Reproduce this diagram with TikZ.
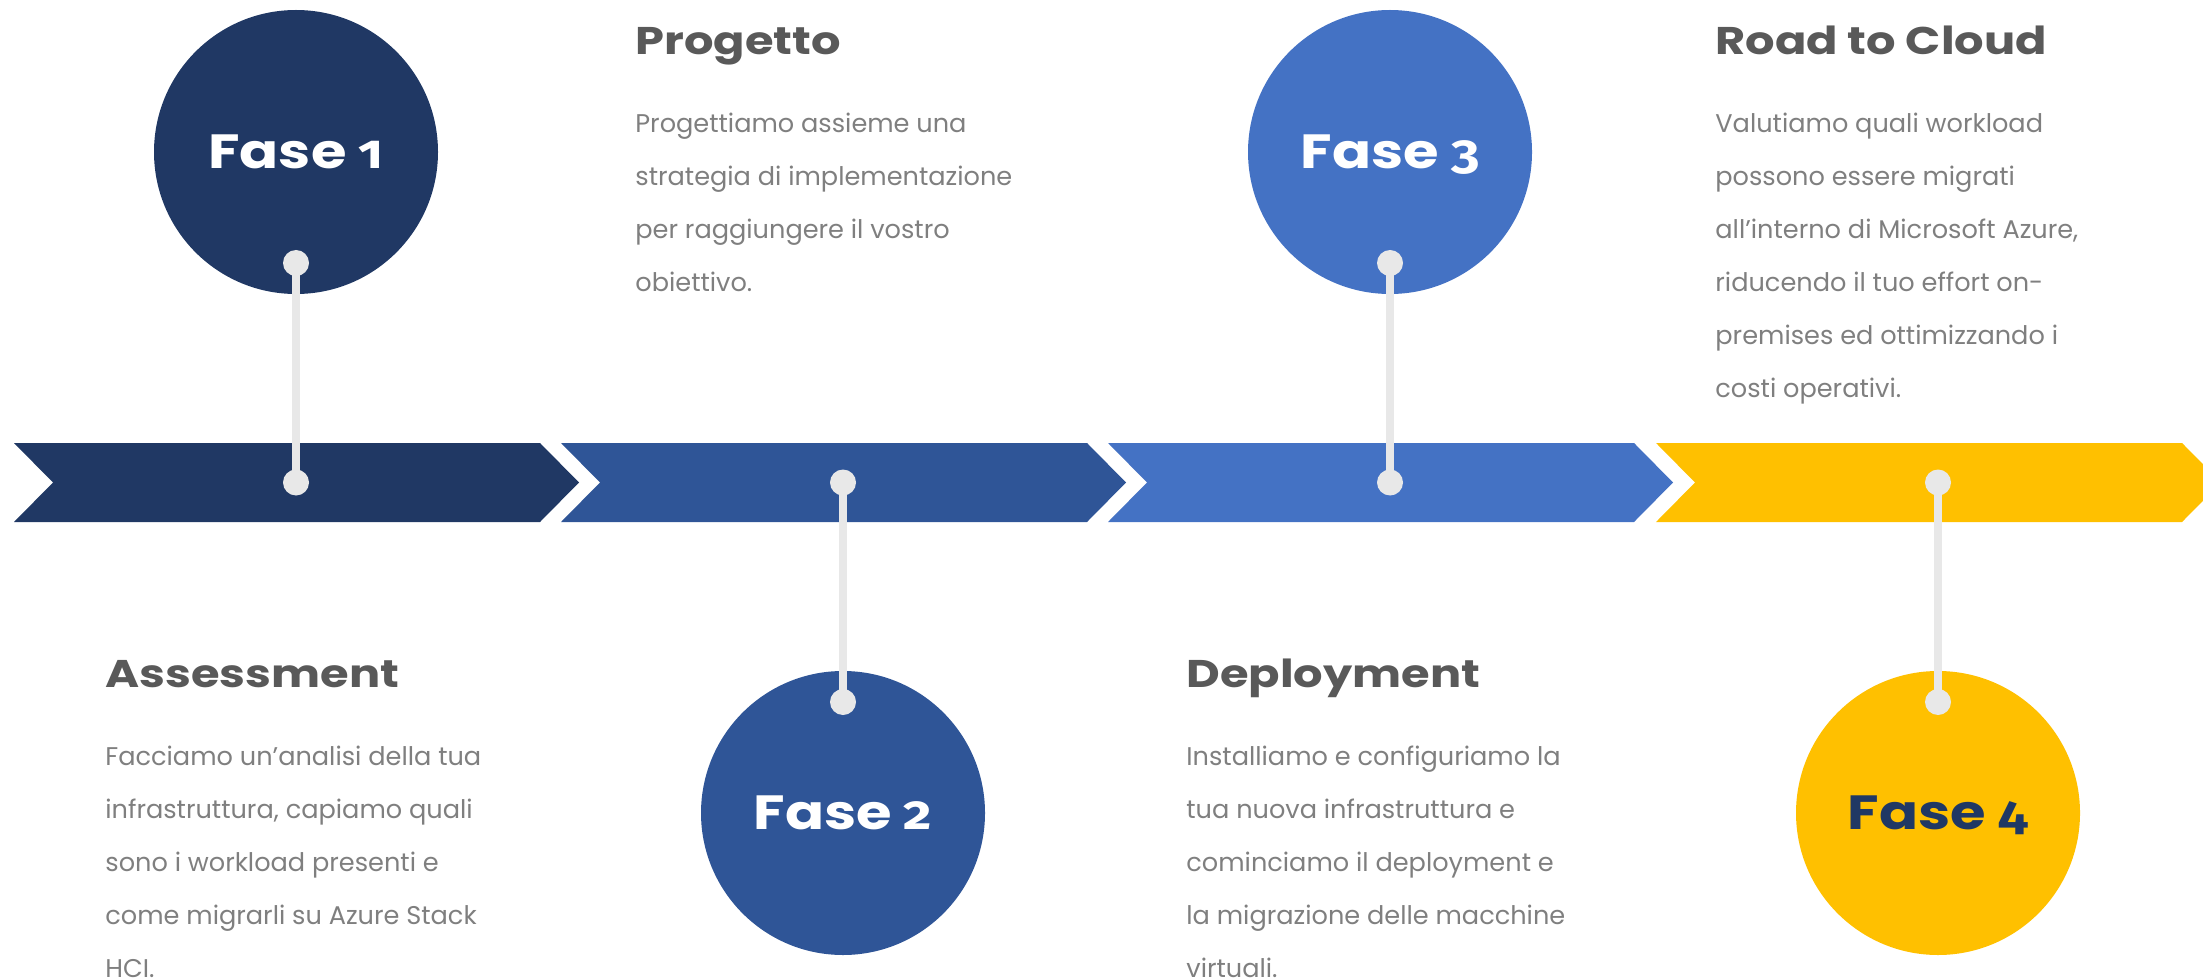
\documentclass[tikz,border=0pt]{standalone}
\usepackage{fontspec}
\setmainfont{Poppins}
\newfontfamily\headfont{Poppins}[FakeStretch=1.2]
\newfontfamily\numfont{Fira Sans}[Numbers=OldStyle,FakeStretch=1.15]
\newfontfamily\bodyfont{Poppins}
\definecolor{navy}{HTML}{203864}
\definecolor{midblue}{HTML}{2F5597}
\definecolor{lightblue}{HTML}{4472C4}
\definecolor{gold}{HTML}{FFC000}
\definecolor{connc}{HTML}{E8E8E8}
\definecolor{headc}{HTML}{595959}
\definecolor{bodyc}{HTML}{7F7F7F}
\newcommand\lns[1]{\begin{tabular}[t]{@{}l@{}}#1\end{tabular}}
\newcommand\chevshape[2]{\fill[#2] (#1,443) -- ++(526,0) -- ++(39,39.5) -- ++(-39,39.5) -- ++(-526,0) -- ++(39,-39.5) -- cycle;}
\tikzset{
  phase/.style={circle, minimum size=142pt, inner sep=0pt, text=white,
    font=\headfont\bfseries\fontsize{24pt}{28pt}\selectfont, text height=16.75pt, text depth=0pt},
  dotn/.style={circle, fill=connc, minimum size=13pt, inner sep=0pt},
  conn/.style={draw=connc, line width=4pt},
  heading/.style={anchor=base west, inner sep=0pt, text=headc, font=\headfont\bfseries\fontsize{19.3pt}{23pt}\selectfont},
  bodytext/.style={anchor=base west, inner sep=0pt, text=bodyc, font=\bodyfont\fontsize{12.8pt}{26.5pt}\selectfont}
}
\begin{document}
\begin{tikzpicture}[x=0.5pt,y=-0.5pt]
\useasboundingbox (0,0) rectangle (2203,978);
% chevrons
\chevshape{14}{navy}
\chevshape{561}{midblue}
\chevshape{1108}{lightblue}
\chevshape{1656}{gold}
% phase circles
\node[phase, fill=navy] (f1) at (296,152) {Fase {\numfont 1}};
\node[phase, fill=midblue] (f2) at (843,813) {Fase {\numfont 2}};
\node[phase, fill=lightblue] (f3) at (1390,152) {Fase {\numfont 3}};
\node[phase, fill=gold, text=navy] (f4) at (1938,813) {Fase {\numfont 4}};
% dots
\node[dotn] (a1) at (296,482.5) {};
\node[dotn] (b1) at (296,263) {};
\node[dotn] (a2) at (843,482.5) {};
\node[dotn] (b2) at (843,702) {};
\node[dotn] (a3) at (1390,482.5) {};
\node[dotn] (b3) at (1390,263) {};
\node[dotn] (a4) at (1938,482.5) {};
\node[dotn] (b4) at (1938,702) {};
\draw[conn] (a1.center) -- (b1.center);
\draw[conn] (a2.center) -- (b2.center);
\draw[conn] (a3.center) -- (b3.center);
\draw[conn] (a4.center) -- (b4.center);
% texts
\node[heading] (h2) at (635,55) {Progetto};
\node[bodytext] (t2) at (635,133) {\lns{Progettiamo assieme una\\strategia di implementazione\\per raggiungere il vostro\\obiettivo.}};
\node[heading] (h4) at (1715,55) {Road to Cloud};
\node[bodytext] (t4) at (1715,133) {\lns{Valutiamo quali workload\\possono essere migrati\\all’interno di Microsoft Azure,\\riducendo il tuo effort on-\\premises ed ottimizzando i\\costi operativi.}};
\node[heading] (h1) at (105,687) {Assessment};
\node[bodytext] (t1) at (105,765) {\lns{Facciamo un’analisi della tua\\infrastruttura, capiamo quali\\sono i workload presenti e\\come migrarli su Azure Stack\\HCI.}};
\node[heading] (h3) at (1186,687) {Deployment};
\node[bodytext] (t3) at (1186,765) {\lns{Installiamo e configuriamo la\\tua nuova infrastruttura e\\cominciamo il deployment e\\la migrazione delle macchine\\virtuali.}};
\end{tikzpicture}
\end{document}
